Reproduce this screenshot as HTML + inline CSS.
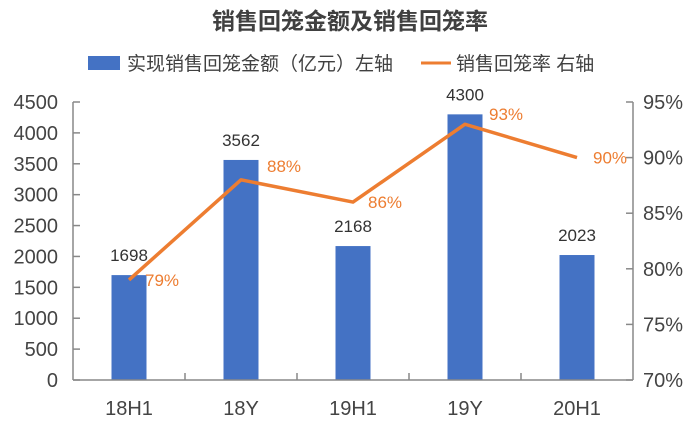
<!DOCTYPE html>
<html><head><meta charset="utf-8"><style>
body{margin:0;background:#fff;}
svg{display:block;font-family:"Liberation Sans","Noto Sans CJK SC",sans-serif;}
</style></head><body>
<svg id="chart" width="700" height="426" viewBox="0 0 700 426">
<text x="350" y="29" text-anchor="middle" font-size="23" font-weight="bold" fill="#404040">销售回笼金额及销售回笼率</text>
<g>
<rect x="88" y="56" width="32" height="14" fill="#4472c4"/>
<text x="127" y="70" font-size="19" fill="#404040">实现销售回笼金额（亿元）左轴</text>
<line x1="421" y1="63" x2="451" y2="63" stroke="#ed7d31" stroke-width="3"/>
<text x="456" y="70" font-size="19" fill="#404040">销售回笼率 右轴</text>
</g>
<g id="plot"></g>
</svg>
<script>
const categories=["18H1","18Y","19H1","19Y","20H1"];
const amounts=[1698,3562,2168,4300,2023];
const rates=[79,88,86,93,90];
const leftTicks=[0,500,1000,1500,2000,2500,3000,3500,4000,4500];
const rightTicks=[70,75,80,85,90,95];

const X0=73,X1=633,Y0=380,Y1=102;
const band=(X1-X0)/categories.length;
const xc=i=>X0+band*(i+0.5);
const yL=v=>Y0-(v/4500)*(Y0-Y1);
const yR=v=>Y0-((v-70)/25)*(Y0-Y1);
const g=document.getElementById('plot');
const NS='http://www.w3.org/2000/svg';
function mk(t,a){const e=document.createElementNS(NS,t);for(const k in a)e.setAttribute(k,a[k]);g.appendChild(e);return e;}

amounts.forEach((v,i)=>{
  const r=mk('rect',{x:xc(i)-17.5,y:yL(v),width:35,height:Y0-yL(v),fill:'#4472c4'});
  
  
  const t=mk('text',{x:xc(i),y:yL(v)-14,'text-anchor':'middle','font-size':17,fill:'#333'});
  t.textContent=v;
  
  
});
let a=mk('line',{x1:X0,y1:Y1,x2:X0,y2:Y0,stroke:'#888','stroke-width':1.5});


a=mk('line',{x1:X1,y1:Y1,x2:X1,y2:Y0,stroke:'#888','stroke-width':1.5});


a=mk('line',{x1:X0,y1:Y0,x2:X1,y2:Y0,stroke:'#888','stroke-width':1.5});


leftTicks.forEach(v=>{
  mk('line',{x1:X0,y1:yL(v),x2:X0+7,y2:yL(v),stroke:'#888','stroke-width':1.5});
  const t=mk('text',{x:58,y:yL(v)+7,'text-anchor':'end','font-size':20,fill:'#444'});
  t.textContent=v;
  
  
});
rightTicks.forEach(v=>{
  mk('line',{x1:X1-7,y1:yR(v),x2:X1,y2:yR(v),stroke:'#888','stroke-width':1.5});
  const t=mk('text',{x:643,y:yR(v)+7,'font-size':20,fill:'#444'});
  t.textContent=v+'%';
  
  
});
categories.forEach((c,i)=>{
  if(i>0) mk('line',{x1:X0+band*i,y1:Y0-7,x2:X0+band*i,y2:Y0,stroke:'#888','stroke-width':1.5});
  const t=mk('text',{x:xc(i),y:415,'text-anchor':'middle','font-size':20,fill:'#444'});
  t.textContent=c;
  
  
});
const pl=mk('polyline',{points:rates.map((v,i)=>xc(i)+','+yR(v)).join(' '),fill:'none',stroke:'#ed7d31','stroke-width':3.5,'stroke-linejoin':'round'});


const offs=[[16,6,'start'],[26,-8,'start'],[15,6,'start'],[24,-4,'start'],[16,6,'start']];
rates.forEach((v,i)=>{
  const o=offs[i];
  const t=mk('text',{x:xc(i)+o[0],y:yR(v)+o[1],'text-anchor':o[2],'font-size':17,fill:'#ed7d31'});
  t.textContent=v+'%';
  
  
});
</script>
</body></html>
